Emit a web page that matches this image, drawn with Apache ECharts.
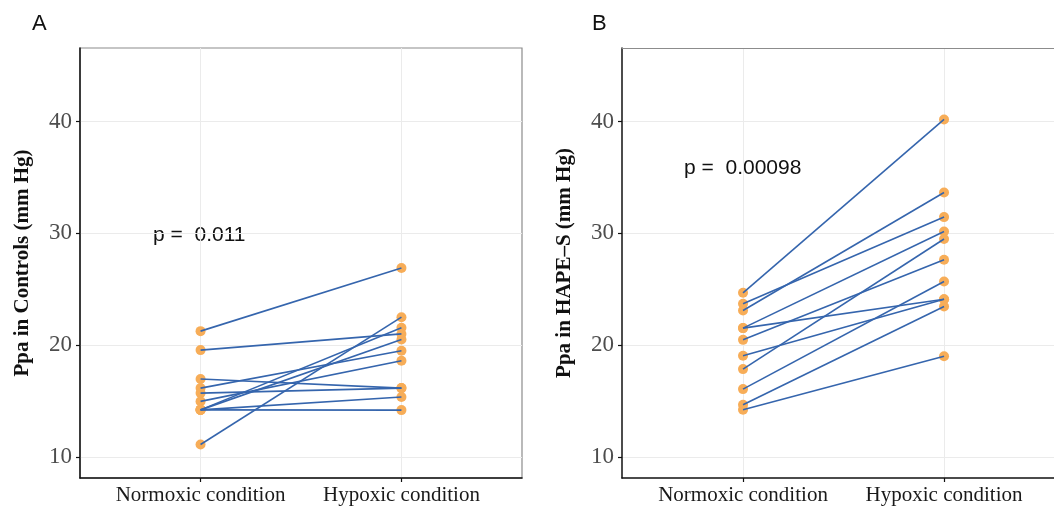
<!DOCTYPE html>
<html>
<head>
<meta charset="utf-8">
<script src="https://cdn.jsdelivr.net/npm/echarts@6/dist/echarts.min.js"></script>
<style>
  html, body { margin: 0; padding: 0; background: #fff; }
  #main { width: 1054px; height: 506px; }
</style>
</head>
<body>
<div id="main"></div>
<script>
// categories on the x axis (positions 1 and 2)
var conditions = ['Normoxic condition', 'Hypoxic condition'];
var yTicks = [10, 20, 30, 40];

// panel A: controls, paired values per subject
var ctrlNormoxic = [21.25, 19.55, 16.96, 16.15, 15.7, 14.96, 14.2, 14.2, 14.2, 14.2, 11.1];
var ctrlHypoxic  = [26.9, 21.0, 16.15, 19.5, 16.15, 18.6, 21.55, 20.5, 15.35, 14.18, 22.5];

// panel B: HAPE-S
var hapeNormoxic = [24.68, 23.7, 23.1, 21.52, 21.52, 20.47, 19.04, 17.85, 16.06, 14.66, 14.21];
var hapeHypoxic  = [40.2, 31.46, 33.66, 30.17, 24.1, 27.64, 24.1, 29.5, 25.7, 23.45, 19.0];

var pA = 'p =  0.011';
var pB = 'p =  0.00098';

var lineColor = '#3565ad';
var dotColor = '#f7ad58';
var serif = '"Liberation Serif", "DejaVu Serif", serif';
var sans = '"Liberation Sans", Arial, sans-serif';

var chart = echarts.init(document.getElementById('main'));

function xAxisFor(idx, min, max) {
  return {
    type: 'value', gridIndex: idx, min: min, max: max,
    axisLine: { show: true, onZero: false, lineStyle: { color: '#111', width: 1.5 } },
    axisTick: { show: true, length: 4, customValues: [1, 2], lineStyle: { color: '#111', width: 1.2 } },
    axisLabel: {
      customValues: [1, 2], margin: 7,
      formatter: function (v) { return conditions[Math.round(v) - 1]; },
      fontFamily: serif, fontSize: 21, color: '#1a1a1a'
    },
    splitLine: { show: true, lineStyle: { color: '#ebebeb', width: 1 } }
  };
}
function yAxisFor(idx, name, gap) {
  return {
    type: 'value', gridIndex: idx, min: 8.1, max: 46.6,
    name: name, nameLocation: 'middle', nameGap: gap,
    nameTextStyle: { fontFamily: serif, fontSize: 21, fontWeight: 'bold', color: '#111' },
    axisLine: { show: true, onZero: false, lineStyle: { color: '#111', width: 1.5 } },
    axisTick: { show: true, length: 4, customValues: yTicks, lineStyle: { color: '#111', width: 1.2 } },
    axisLabel: { customValues: yTicks, margin: 8, fontFamily: serif, fontSize: 23, color: '#4d4d4d' },
    splitLine: { show: true, lineStyle: { color: '#ebebeb', width: 1 } }
  };
}

function buildSeries(idx, before, after) {
  var out = [];
  var pts = [];
  for (var i = 0; i < before.length; i++) {
    pts.push([1, before[i]]);
    pts.push([2, after[i]]);
  }
  out.push({
    type: 'scatter', xAxisIndex: idx, yAxisIndex: idx, z: 2,
    symbolSize: 10, itemStyle: { color: dotColor, opacity: 1 },
    data: pts, silent: true
  });
  for (var j = 0; j < before.length; j++) {
    out.push({
      type: 'line', xAxisIndex: idx, yAxisIndex: idx, z: 3,
      showSymbol: false, symbol: 'none', silent: true,
      lineStyle: { color: lineColor, width: 1.6 },
      data: [[1, before[j]], [2, after[j]]]
    });
  }
  return out;
}

// top border of panel B (its right edge is cut off by the picture)
var topB = {
  type: 'value', gridIndex: 1, position: 'top', min: 0.398, max: 2.547,
  axisLine: { show: true, onZero: false, lineStyle: { color: '#8c8c8c', width: 1.2 } },
  axisTick: { show: false }, axisLabel: { show: false }, splitLine: { show: false }
};

var option = {
  animation: false,
  backgroundColor: '#fff',
  grid: [
    { left: 80, top: 48, width: 442, height: 430, show: true, borderColor: '#8c8c8c', borderWidth: 1.2 },
    { left: 622, top: 48, width: 432, height: 430, show: false }
  ],
  xAxis: [xAxisFor(0, 0.4, 2.6), xAxisFor(1, 0.398, 2.547), topB],
  yAxis: [yAxisFor(0, 'Ppa in Controls (mm Hg)', 47), yAxisFor(1, 'Ppa in HAPE\u2013S (mm Hg)', 47)],
  graphic: [
    { type: 'text', left: 32, top: 13, style: { text: 'A', font: '22px ' + sans, fill: '#111' } },
    { type: 'text', left: 592, top: 13, style: { text: 'B', font: '22px ' + sans, fill: '#111' } },
    { type: 'text', left: 153, top: 225, style: { text: pA, font: '21px ' + sans, fill: '#111' } },
    { type: 'text', left: 684, top: 158, style: { text: pB, font: '21px ' + sans, fill: '#111' } }
  ],
  series: buildSeries(0, ctrlNormoxic, ctrlHypoxic).concat(buildSeries(1, hapeNormoxic, hapeHypoxic))
};

chart.setOption(option);
</script>
</body>
</html>
